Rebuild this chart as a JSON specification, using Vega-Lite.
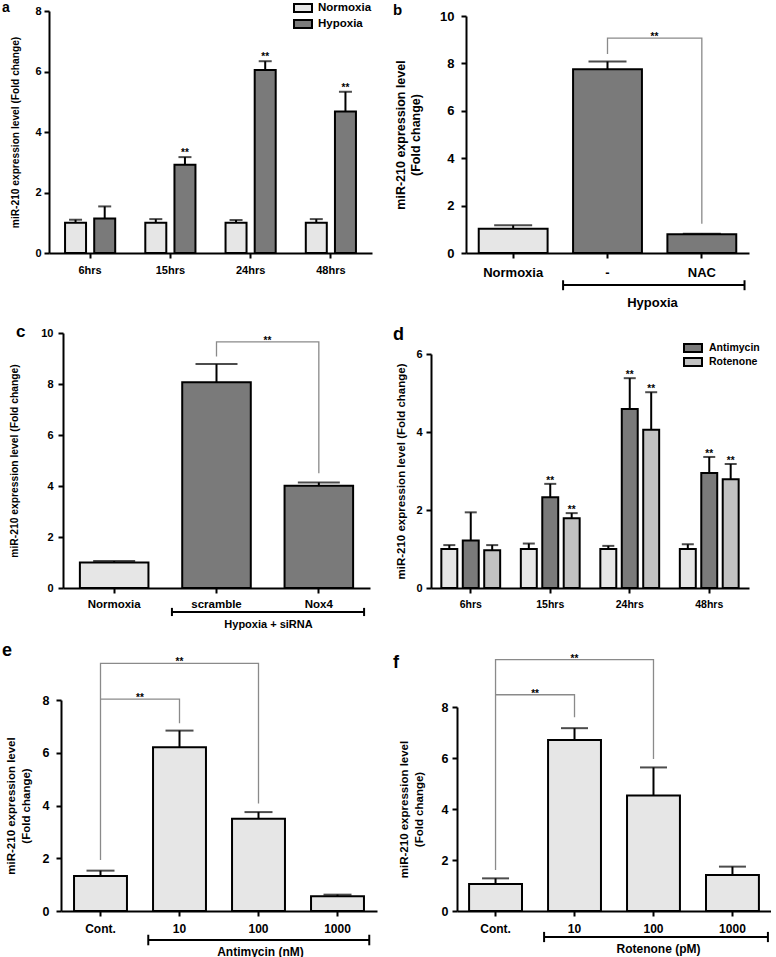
{
  "$schema": "https://vega.github.io/schema/vega-lite/v6.json",
  "background": "white",
  "padding": {"left": 2, "top": 0, "right": 0, "bottom": 0},
  "columns": 2,
  "align": "each",
  "bounds": "flush",
  "spacing": {"row": 40, "column": 54},
  "resolve": {"scale": {"fill": "independent", "xOffset": "independent"}, "legend": {"fill": "independent"}},
  "config": {
    "font": "Liberation Sans",
    "view": {"stroke": null},
    "axis": {"labelFont": "Liberation Sans", "titleFont": "Liberation Sans", "labelFontWeight": "bold", "titleFontWeight": "bold", "labelColor": "black", "titleColor": "black", "domainColor": "black", "domainWidth": 2, "tickColor": "black", "tickWidth": 2, "tickSize": 5, "grid": false},
    "axisX": {"labelAngle": 0},
    "title": {"font": "Liberation Sans", "fontWeight": "bold", "color": "black", "anchor": "start", "frame": "group", "offset": 0, "baseline": "alphabetic"},
    "text": {"font": "Liberation Sans", "fontWeight": "bold", "fontSize": 10, "color": "black", "baseline": "alphabetic"},
    "bar": {"stroke": "black", "strokeWidth": 2}
  },
  "datasets": {
    "a": [
      {"time": "6hrs", "group": "Normoxia", "mean": 1.0, "upper": 1.1, "sig": ""},
      {"time": "6hrs", "group": "Hypoxia", "mean": 1.14, "upper": 1.54, "sig": ""},
      {"time": "15hrs", "group": "Normoxia", "mean": 1.0, "upper": 1.12, "sig": ""},
      {"time": "15hrs", "group": "Hypoxia", "mean": 2.92, "upper": 3.17, "sig": "**"},
      {"time": "24hrs", "group": "Normoxia", "mean": 1.0, "upper": 1.09, "sig": ""},
      {"time": "24hrs", "group": "Hypoxia", "mean": 6.05, "upper": 6.34, "sig": "**"},
      {"time": "48hrs", "group": "Normoxia", "mean": 1.0, "upper": 1.12, "sig": ""},
      {"time": "48hrs", "group": "Hypoxia", "mean": 4.68, "upper": 5.33, "sig": "**"}
    ],
    "b": [
      {"cond": "Normoxia", "group": "Normoxia", "mean": 1.02, "upper": 1.17},
      {"cond": "-", "group": "Hypoxia", "mean": 7.75, "upper": 8.08},
      {"cond": "NAC", "group": "Hypoxia", "mean": 0.79, "upper": 0.81}
    ],
    "b_br": [
      {"id": 1, "k": 1, "cond": "-", "y": 8.4},
      {"id": 1, "k": 2, "cond": "-", "y": 9.07},
      {"id": 1, "k": 3, "cond": "NAC", "y": 9.07},
      {"id": 1, "k": 4, "cond": "NAC", "y": 1.23}
    ],
    "b_sig": [{"cond": "-", "y": 9.07, "sig": "**"}],
    "b_grp": [{"from": "-", "to": "NAC", "y": -1.35, "capTop": -1.15, "capBottom": -1.57}],
    "c": [
      {"cond": "Normoxia", "group": "Normoxia", "mean": 1.0, "upper": 1.06},
      {"cond": "scramble", "group": "Hypoxia", "mean": 8.07, "upper": 8.78},
      {"cond": "Nox4", "group": "Hypoxia", "mean": 4.01, "upper": 4.14}
    ],
    "c_br": [
      {"id": 1, "k": 1, "cond": "scramble", "y": 9.08},
      {"id": 1, "k": 2, "cond": "scramble", "y": 9.65},
      {"id": 1, "k": 3, "cond": "Nox4", "y": 9.65},
      {"id": 1, "k": 4, "cond": "Nox4", "y": 4.5}
    ],
    "c_sig": [{"cond": "scramble", "y": 9.65, "sig": "**"}],
    "c_grp": [{"from": "scramble", "to": "Nox4", "y": -0.94, "capTop": -0.78, "capBottom": -1.1}],
    "d": [
      {"time": "6hrs", "group": "Normoxia", "mean": 1.0, "upper": 1.1, "sig": ""},
      {"time": "6hrs", "group": "Antimycin", "mean": 1.22, "upper": 1.94, "sig": ""},
      {"time": "6hrs", "group": "Rotenone", "mean": 0.97, "upper": 1.1, "sig": ""},
      {"time": "15hrs", "group": "Normoxia", "mean": 1.0, "upper": 1.14, "sig": ""},
      {"time": "15hrs", "group": "Antimycin", "mean": 2.33, "upper": 2.67, "sig": "**"},
      {"time": "15hrs", "group": "Rotenone", "mean": 1.79, "upper": 1.92, "sig": "**"},
      {"time": "24hrs", "group": "Normoxia", "mean": 1.0, "upper": 1.08, "sig": ""},
      {"time": "24hrs", "group": "Antimycin", "mean": 4.59, "upper": 5.38, "sig": "**"},
      {"time": "24hrs", "group": "Rotenone", "mean": 4.06, "upper": 5.02, "sig": "**"},
      {"time": "48hrs", "group": "Normoxia", "mean": 1.0, "upper": 1.12, "sig": ""},
      {"time": "48hrs", "group": "Antimycin", "mean": 2.95, "upper": 3.36, "sig": "**"},
      {"time": "48hrs", "group": "Rotenone", "mean": 2.79, "upper": 3.18, "sig": "**"}
    ],
    "e": [
      {"dose": "Cont.", "mean": 1.33, "upper": 1.53},
      {"dose": "10", "mean": 6.21, "upper": 6.84},
      {"dose": "100", "mean": 3.5, "upper": 3.75},
      {"dose": "1000", "mean": 0.56, "upper": 0.62}
    ],
    "e_br": [
      {"id": 1, "k": 1, "dose": "Cont.", "y": 1.93},
      {"id": 1, "k": 2, "dose": "Cont.", "y": 9.39},
      {"id": 1, "k": 3, "dose": "100", "y": 9.39},
      {"id": 1, "k": 4, "dose": "100", "y": 4.08},
      {"id": 2, "k": 1, "dose": "Cont.", "y": 8.03},
      {"id": 2, "k": 2, "dose": "10", "y": 8.03},
      {"id": 2, "k": 3, "dose": "10", "y": 7.12}
    ],
    "e_sig_near": [{"dose": "Cont.", "y": 8.03, "sig": "**"}],
    "e_sig_far": [{"dose": "10", "y": 9.39, "sig": "**"}],
    "e_grp": [{"from": "10", "to": "1000", "y": -1.1, "capTop": -0.9, "capBottom": -1.3}],
    "f": [
      {"dose": "Cont.", "mean": 1.06, "upper": 1.28},
      {"dose": "10", "mean": 6.71, "upper": 7.17},
      {"dose": "100", "mean": 4.53, "upper": 5.63},
      {"dose": "1000", "mean": 1.41, "upper": 1.74}
    ],
    "f_br": [
      {"id": 1, "k": 1, "dose": "Cont.", "y": 1.61},
      {"id": 1, "k": 2, "dose": "Cont.", "y": 9.86},
      {"id": 1, "k": 3, "dose": "100", "y": 9.86},
      {"id": 1, "k": 4, "dose": "100", "y": 5.96},
      {"id": 2, "k": 1, "dose": "Cont.", "y": 8.48},
      {"id": 2, "k": 2, "dose": "10", "y": 8.48},
      {"id": 2, "k": 3, "dose": "10", "y": 7.6}
    ],
    "f_sig_near": [{"dose": "Cont.", "y": 8.48, "sig": "**"}],
    "f_sig_far": [{"dose": "10", "y": 9.86, "sig": "**"}],
    "f_grp": [{"from": "10", "to": "1000", "y": -1.02, "capTop": -0.82, "capBottom": -1.22}]
  },
  "concat": [
    {
      "width": 328, "height": 242,
      "title": {"text": "a", "dx": -47, "dy": 18.5, "fontSize": 14},
      "data": {"name": "a"},
      "encoding": {
        "x": {"field": "time", "type": "nominal", "scale": {"domain": ["6hrs", "15hrs", "24hrs", "48hrs"], "range": [0, 323], "paddingInner": 0.375, "paddingOuter": 0.2}, "axis": {"title": null, "labelFontSize": 11, "labelPadding": 6}},
        "xOffset": {"field": "group", "type": "nominal", "scale": {"domain": ["Normoxia", "Hypoxia"], "paddingInner": 0.28, "paddingOuter": 0}}
      },
      "layer": [
        {"mark": {"type": "bar"}, "encoding": {
          "y": {"field": "mean", "type": "quantitative", "scale": {"domain": [0, 8], "range": [242, 0], "nice": false}, "axis": {"title": "miR-210 expression level  (Fold change)", "values": [0, 2, 4, 6, 8], "labelFontSize": 11, "labelPadding": 3, "titleFontSize": 10.2, "titlePadding": 14}},
          "fill": {"field": "group", "type": "nominal", "scale": {"domain": ["Normoxia", "Hypoxia"], "range": ["#e6e6e6", "#7a7a7a"]}, "legend": {"orient": "none", "legendX": 244, "legendY": -11, "title": null, "symbolType": "M-1,-0.45H1V0.45H-1Z", "symbolSize": 324, "symbolStrokeColor": "black", "symbolStrokeWidth": 2, "symbolOpacity": 1, "labelFontSize": 11.5, "labelFont": "Liberation Sans", "labelFontWeight": "bold", "labelColor": "black", "padding": 0, "rowPadding": 0, "clipHeight": 16, "labelOffset": 5}}
        }},
        {"mark": {"type": "rule", "color": "black", "strokeWidth": 2}, "encoding": {"y": {"field": "mean", "type": "quantitative"}, "y2": {"field": "upper"}}},
        {"mark": {"type": "tick", "color": "black", "thickness": 2, "size": 13, "orient": "horizontal"}, "encoding": {"y": {"field": "upper", "type": "quantitative"}}},
        {"mark": {"type": "text", "dy": -1}, "encoding": {"y": {"field": "upper", "type": "quantitative"}, "text": {"field": "sig"}}}
      ]
    },
    {
      "width": 340, "height": 242,
      "title": {"text": "b", "dx": -38, "dy": 12, "fontSize": 15},
      "data": {"name": "b"},
      "encoding": {
        "x": {"field": "cond", "type": "nominal", "title": "Hypoxia", "scale": {"domain": ["Normoxia", "-", "NAC"], "range": [35, 318], "paddingInner": 0.27, "paddingOuter": 0.135}, "axis": {"title": "Hypoxia", "titleX": 221, "titleY": 49, "titleBaseline": "middle", "titleFontSize": 13, "labelFontSize": 13, "labelPadding": 8}}
      },
      "layer": [
        {"mark": {"type": "bar"}, "encoding": {
          "y": {"field": "mean", "type": "quantitative", "scale": {"domain": [0, 10], "range": [242, 5], "nice": false}, "axis": {"title": ["miR-210 expression level", "(Fold change)"], "offset": -35, "values": [0, 2, 4, 6, 8, 10], "labelFontSize": 13, "labelPadding": 7, "titleFontSize": 12.5, "titleLineHeight": 15, "titlePadding": 17}},
          "fill": {"field": "group", "type": "nominal", "scale": {"domain": ["Normoxia", "Hypoxia"], "range": ["#e6e6e6", "#7a7a7a"]}, "legend": null}
        }},
        {"mark": {"type": "rule", "color": "black", "strokeWidth": 2}, "encoding": {"y": {"field": "mean", "type": "quantitative"}, "y2": {"field": "upper"}}},
        {"mark": {"type": "tick", "color": "black", "thickness": 2, "size": 38, "orient": "horizontal"}, "encoding": {"y": {"field": "upper", "type": "quantitative"}}},
        {"data": {"name": "b_br"}, "mark": {"type": "line", "color": "#8a8a8a", "strokeWidth": 1.3}, "encoding": {"y": {"field": "y", "type": "quantitative"}, "detail": {"field": "id"}, "order": {"field": "k"}}},
        {"data": {"name": "b_sig"}, "mark": {"type": "text", "dx": 47, "dy": 2}, "encoding": {"y": {"field": "y", "type": "quantitative"}, "text": {"field": "sig"}}},
        {"data": {"name": "b_grp"}, "mark": {"type": "rule", "color": "black", "strokeWidth": 2}, "encoding": {"x": {"field": "from", "type": "nominal", "title": "Hypoxia", "bandPosition": -0.145}, "x2": {"field": "to", "bandPosition": 1.12}, "y": {"field": "y", "type": "quantitative"}}},
        {"data": {"name": "b_grp"}, "mark": {"type": "rule", "color": "black", "strokeWidth": 2}, "encoding": {"x": {"field": "from", "type": "nominal", "title": "Hypoxia", "bandPosition": -0.145}, "y": {"field": "capTop", "type": "quantitative"}, "y2": {"field": "capBottom"}}},
        {"data": {"name": "b_grp"}, "mark": {"type": "rule", "color": "black", "strokeWidth": 2}, "encoding": {"x": {"field": "to", "type": "nominal", "title": "Hypoxia", "bandPosition": 1.12}, "y": {"field": "capTop", "type": "quantitative"}, "y2": {"field": "capBottom"}}}
      ]
    },
    {
      "width": 328, "height": 295,
      "title": {"text": "c", "dx": -33, "dy": 52, "fontSize": 17},
      "data": {"name": "c"},
      "encoding": {
        "x": {"field": "cond", "type": "nominal", "title": "Hypoxia + siRNA", "scale": {"domain": ["Normoxia", "scramble", "Nox4"], "range": [14, 321], "paddingInner": 0.33, "paddingOuter": 0.165}, "axis": {"title": "Hypoxia + siRNA", "titleX": 219, "titleY": 36, "titleBaseline": "middle", "titleFontSize": 11, "labelFontSize": 11.5, "labelPadding": 5}}
      },
      "layer": [
        {"mark": {"type": "bar"}, "encoding": {
          "y": {"field": "mean", "type": "quantitative", "scale": {"domain": [0, 10], "range": [295, 40], "nice": false}, "axis": {"title": "miR-210 expression level  (Fold change)", "offset": -14, "values": [0, 2, 4, 6, 8, 10], "labelFontSize": 11, "labelPadding": 5, "titleFontSize": 10.3, "titlePadding": 21}},
          "fill": {"field": "group", "type": "nominal", "scale": {"domain": ["Normoxia", "Hypoxia"], "range": ["#e6e6e6", "#7a7a7a"]}, "legend": null}
        }},
        {"mark": {"type": "rule", "color": "black", "strokeWidth": 2}, "encoding": {"y": {"field": "mean", "type": "quantitative"}, "y2": {"field": "upper"}}},
        {"mark": {"type": "tick", "color": "black", "thickness": 2, "size": 42, "orient": "horizontal"}, "encoding": {"y": {"field": "upper", "type": "quantitative"}}},
        {"data": {"name": "c_br"}, "mark": {"type": "line", "color": "#8a8a8a", "strokeWidth": 1.3}, "encoding": {"y": {"field": "y", "type": "quantitative"}, "detail": {"field": "id"}, "order": {"field": "k"}}},
        {"data": {"name": "c_sig"}, "mark": {"type": "text", "dx": 51, "dy": 2}, "encoding": {"y": {"field": "y", "type": "quantitative"}, "text": {"field": "sig"}}},
        {"data": {"name": "c_grp"}, "mark": {"type": "rule", "color": "black", "strokeWidth": 2}, "encoding": {"x": {"field": "from", "type": "nominal", "title": "Hypoxia + siRNA", "bandPosition": -0.15}, "x2": {"field": "to", "bandPosition": 1.16}, "y": {"field": "y", "type": "quantitative"}}},
        {"data": {"name": "c_grp"}, "mark": {"type": "rule", "color": "black", "strokeWidth": 2}, "encoding": {"x": {"field": "from", "type": "nominal", "title": "Hypoxia + siRNA", "bandPosition": -0.15}, "y": {"field": "capTop", "type": "quantitative"}, "y2": {"field": "capBottom"}}},
        {"data": {"name": "c_grp"}, "mark": {"type": "rule", "color": "black", "strokeWidth": 2}, "encoding": {"x": {"field": "to", "type": "nominal", "title": "Hypoxia + siRNA", "bandPosition": 1.16}, "y": {"field": "capTop", "type": "quantitative"}, "y2": {"field": "capBottom"}}}
      ]
    },
    {
      "width": 340, "height": 295,
      "title": {"text": "d", "dx": -38, "dy": 55, "fontSize": 18},
      "data": {"name": "d"},
      "encoding": {
        "x": {"field": "time", "type": "nominal", "scale": {"domain": ["6hrs", "15hrs", "24hrs", "48hrs"], "range": [0, 318], "paddingInner": 0.26, "paddingOuter": 0.13}, "axis": {"title": null, "labelFontSize": 10.5, "labelPadding": 6}},
        "xOffset": {"field": "group", "type": "nominal", "scale": {"domain": ["Normoxia", "Antimycin", "Rotenone"], "paddingInner": 0.256, "paddingOuter": 0}}
      },
      "layer": [
        {"mark": {"type": "bar"}, "encoding": {
          "y": {"field": "mean", "type": "quantitative", "scale": {"domain": [0, 6], "range": [295, 61], "nice": false}, "axis": {"title": "miR-210 expression level  (Fold change)", "values": [0, 2, 4, 6], "labelFontSize": 11, "labelPadding": 4, "titleFontSize": 11.5, "titlePadding": 9}},
          "fill": {"field": "group", "type": "nominal", "scale": {"domain": ["Normoxia", "Antimycin", "Rotenone"], "range": ["#e6e6e6", "#7a7a7a", "#c2c2c2"]}, "legend": {"values": ["Antimycin", "Rotenone"], "orient": "none", "legendX": 252, "legendY": 48, "title": null, "symbolType": "M-1,-0.45H1V0.45H-1Z", "symbolSize": 324, "symbolStrokeColor": "black", "symbolStrokeWidth": 2, "symbolOpacity": 1, "labelFontSize": 10.5, "labelFont": "Liberation Sans", "labelFontWeight": "bold", "labelColor": "black", "padding": 0, "rowPadding": 0, "clipHeight": 14, "labelOffset": 6}}
        }},
        {"mark": {"type": "rule", "color": "black", "strokeWidth": 2}, "encoding": {"y": {"field": "mean", "type": "quantitative"}, "y2": {"field": "upper"}}},
        {"mark": {"type": "tick", "color": "black", "thickness": 2, "size": 12, "orient": "horizontal"}, "encoding": {"y": {"field": "upper", "type": "quantitative"}}},
        {"mark": {"type": "text", "dy": 0}, "encoding": {"y": {"field": "upper", "type": "quantitative"}, "text": {"field": "sig"}}}
      ]
    },
    {
      "width": 328, "height": 283,
      "title": {"text": "e", "dx": -47, "dy": 36, "fontSize": 18},
      "data": {"name": "e"},
      "encoding": {
        "x": {"field": "dose", "type": "nominal", "title": "Antimycin (nM)", "scale": {"domain": ["Cont.", "10", "100", "1000"], "range": [12, 328], "paddingInner": 0.33, "paddingOuter": 0.165}, "axis": {"title": "Antimycin (nM)", "titleX": 211, "titleY": 40, "titleBaseline": "middle", "titleFontSize": 12, "labelFontSize": 12, "labelPadding": 7}}
      },
      "layer": [
        {"mark": {"type": "bar", "fill": "#e6e6e6"}, "encoding": {
          "y": {"field": "mean", "type": "quantitative", "scale": {"domain": [0, 8], "range": [283, 72], "nice": false}, "axis": {"title": ["miR-210 expression level", "(Fold change)"], "offset": -12, "values": [0, 2, 4, 6, 8], "labelFontSize": 12.5, "labelPadding": 7, "titleFontSize": 11.5, "titleLineHeight": 15, "titlePadding": 11}}
        }},
        {"mark": {"type": "rule", "color": "black", "strokeWidth": 2}, "encoding": {"y": {"field": "mean", "type": "quantitative"}, "y2": {"field": "upper"}}},
        {"mark": {"type": "tick", "color": "black", "thickness": 2, "size": 28, "orient": "horizontal"}, "encoding": {"y": {"field": "upper", "type": "quantitative"}}},
        {"data": {"name": "e_br"}, "mark": {"type": "line", "color": "#8a8a8a", "strokeWidth": 1.3}, "encoding": {"y": {"field": "y", "type": "quantitative"}, "detail": {"field": "id"}, "order": {"field": "k"}}},
        {"data": {"name": "e_sig_near"}, "mark": {"type": "text", "dx": 39.5, "dy": 2}, "encoding": {"y": {"field": "y", "type": "quantitative"}, "text": {"field": "sig"}}},
        {"data": {"name": "e_sig_far"}, "mark": {"type": "text", "dy": 2}, "encoding": {"y": {"field": "y", "type": "quantitative"}, "text": {"field": "sig"}}},
        {"data": {"name": "e_grp"}, "mark": {"type": "rule", "color": "black", "strokeWidth": 2}, "encoding": {"x": {"field": "from", "type": "nominal", "title": "Antimycin (nM)", "bandPosition": -0.09}, "x2": {"field": "to", "bandPosition": 1.1}, "y": {"field": "y", "type": "quantitative"}}},
        {"data": {"name": "e_grp"}, "mark": {"type": "rule", "color": "black", "strokeWidth": 2}, "encoding": {"x": {"field": "from", "type": "nominal", "title": "Antimycin (nM)", "bandPosition": -0.09}, "y": {"field": "capTop", "type": "quantitative"}, "y2": {"field": "capBottom"}}},
        {"data": {"name": "e_grp"}, "mark": {"type": "rule", "color": "black", "strokeWidth": 2}, "encoding": {"x": {"field": "to", "type": "nominal", "title": "Antimycin (nM)", "bandPosition": 1.1}, "y": {"field": "capTop", "type": "quantitative"}, "y2": {"field": "capBottom"}}}
      ]
    },
    {
      "width": 340, "height": 283,
      "title": {"text": "f", "dx": -38, "dy": 48, "fontSize": 18},
      "data": {"name": "f"},
      "encoding": {
        "x": {"field": "dose", "type": "nominal", "title": "Rotenone (pM)", "scale": {"domain": ["Cont.", "10", "100", "1000"], "range": [26, 340], "paddingInner": 0.33, "paddingOuter": 0.153}, "axis": {"title": "Rotenone (pM)", "titleX": 227, "titleY": 37, "titleBaseline": "middle", "titleFontSize": 12, "labelFontSize": 12, "labelPadding": 7}}
      },
      "layer": [
        {"mark": {"type": "bar", "fill": "#e6e6e6"}, "encoding": {
          "y": {"field": "mean", "type": "quantitative", "scale": {"domain": [0, 8], "range": [283, 79], "nice": false}, "axis": {"title": ["miR-210 expression level", "(Fold change)"], "offset": -26, "values": [0, 2, 4, 6, 8], "labelFontSize": 12.5, "labelPadding": 4, "titleFontSize": 11.5, "titleLineHeight": 15, "titlePadding": 17}}
        }},
        {"mark": {"type": "rule", "color": "black", "strokeWidth": 2}, "encoding": {"y": {"field": "mean", "type": "quantitative"}, "y2": {"field": "upper"}}},
        {"mark": {"type": "tick", "color": "black", "thickness": 2, "size": 27, "orient": "horizontal"}, "encoding": {"y": {"field": "upper", "type": "quantitative"}}},
        {"data": {"name": "f_br"}, "mark": {"type": "line", "color": "#8a8a8a", "strokeWidth": 1.3}, "encoding": {"y": {"field": "y", "type": "quantitative"}, "detail": {"field": "id"}, "order": {"field": "k"}}},
        {"data": {"name": "f_sig_near"}, "mark": {"type": "text", "dx": 39.5, "dy": 2}, "encoding": {"y": {"field": "y", "type": "quantitative"}, "text": {"field": "sig"}}},
        {"data": {"name": "f_sig_far"}, "mark": {"type": "text", "dy": 2}, "encoding": {"y": {"field": "y", "type": "quantitative"}, "text": {"field": "sig"}}},
        {"data": {"name": "f_grp"}, "mark": {"type": "rule", "color": "black", "strokeWidth": 2}, "encoding": {"x": {"field": "from", "type": "nominal", "title": "Rotenone (pM)", "bandPosition": -0.075}, "x2": {"field": "to", "bandPosition": 1.17}, "y": {"field": "y", "type": "quantitative"}}},
        {"data": {"name": "f_grp"}, "mark": {"type": "rule", "color": "black", "strokeWidth": 2}, "encoding": {"x": {"field": "from", "type": "nominal", "title": "Rotenone (pM)", "bandPosition": -0.075}, "y": {"field": "capTop", "type": "quantitative"}, "y2": {"field": "capBottom"}}},
        {"data": {"name": "f_grp"}, "mark": {"type": "rule", "color": "black", "strokeWidth": 2}, "encoding": {"x": {"field": "to", "type": "nominal", "title": "Rotenone (pM)", "bandPosition": 1.17}, "y": {"field": "capTop", "type": "quantitative"}, "y2": {"field": "capBottom"}}}
      ]
    }
  ]
}
